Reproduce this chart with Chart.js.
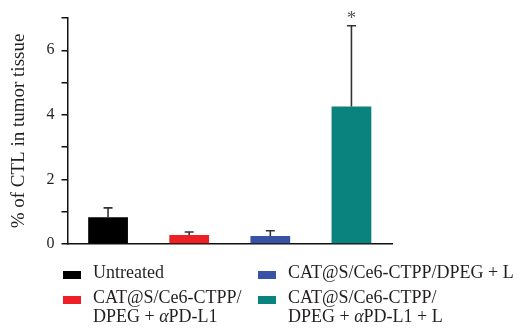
<!DOCTYPE html>
<html>
<head>
<meta charset="utf-8">
<script src="https://cdn.jsdelivr.net/npm/chart.js@4/dist/chart.umd.min.js"></script>
<style>
  html, body { margin: 0; padding: 0; background: #fff; }
  #wrap { position: relative; width: 520px; height: 330px; }
  #chart { position: absolute; left: 0; top: 0; }
  .lg-item { position: absolute; font-family: "Liberation Serif", "DejaVu Serif", serif;
             font-size: 18px; line-height: 19.5px; color: #231f20; white-space: nowrap; }
  .lg-swatch { position: absolute; width: 18px; height: 8px; }
</style>
</head>
<body>
<div id="wrap">
  <canvas id="chart" width="520" height="330"></canvas>
  <div id="legend"></div>
</div>
<script>
// Groups, each drawn as one bar
const categories = [
  ['Untreated'],
  ['CAT@S/Ce6-CTPP/', 'DPEG + αPD-L1'],
  ['CAT@S/Ce6-CTPP/DPEG + L'],
  ['CAT@S/Ce6-CTPP/', 'DPEG + αPD-L1 + L']
];
// Mean % of CTL in tumor tissue and the upper error (SD)
const means  = [0.83, 0.28, 0.25, 4.26];
const errors = [0.29, 0.09, 0.16, 2.50];
const significance = ['', '', '', '*'];
const barColors = ['#000000', '#ee1f25', '#3953a4', '#0a827d'];
const yTickValues = [0, 2, 4, 6];
const yTitle = '% of CTL in tumor tissue';

const serif = '"Liberation Serif", "DejaVu Serif", serif';

// Upward-only error bars with caps, plus significance marks above them
const errorBarPlugin = {
  id: 'errorBars',
  afterDatasetsDraw(chart) {
    const { ctx, scales: { x, y } } = chart;
    ctx.save();
    means.forEach((m, i) => {
      const cx = x.getPixelForValue(i);
      const yBar = y.getPixelForValue(m);
      const yTop = y.getPixelForValue(m + errors[i]);
      ctx.strokeStyle = '#333';
      ctx.lineWidth = 1.6;
      ctx.beginPath();
      ctx.moveTo(cx, yBar);
      ctx.lineTo(cx, yTop);
      ctx.moveTo(cx - 4.5, yTop);
      ctx.lineTo(cx + 4.5, yTop);
      ctx.stroke();
      if (significance[i]) {
        ctx.fillStyle = '#555';
        ctx.font = '19px ' + serif;
        ctx.textAlign = 'center';
        ctx.textBaseline = 'alphabetic';
        ctx.fillText(significance[i], cx, yTop - 2);
      }
    });
    ctx.restore();
  }
};

new Chart(document.getElementById('chart'), {
  type: 'bar',
  data: {
    labels: categories.map(c => c.join(' ')),
    datasets: [{
      data: means,
      backgroundColor: barColors,
      borderWidth: 0,
      barPercentage: 0.49,
      categoryPercentage: 1.0
    }]
  },
  options: {
    responsive: false,
    animation: false,
    events: [],
    layout: { padding: { left: 0, top: 18, right: 128, bottom: 78 } },
    plugins: { legend: { display: false }, tooltip: { enabled: false } },
    scales: {
      x: {
        ticks: { display: false },
        grid: { display: false },
        border: { display: true, color: '#111', width: 1.5 }
      },
      y: {
        min: 0,
        max: 7,
        ticks: {
          stepSize: 1,
          color: '#231f20',
          padding: 7,
          font: { family: serif, size: 16 },
          callback: v => (yTickValues.includes(v) ? String(v) : '')
        },
        grid: { drawOnChartArea: false, drawTicks: true, tickLength: 6, color: '#111', lineWidth: 1.5 },
        border: { display: true, color: '#111', width: 1.5 },
        title: {
          display: true,
          text: yTitle,
          color: '#231f20',
          font: { family: serif, size: 19 },
          padding: { top: 8, bottom: 8.7 }
        }
      }
    }
  },
  plugins: [errorBarPlugin]
});

// Legend in two columns, swatches sitting on the first text baseline
const legend = document.getElementById('legend');
const legendSlots = [
  { left: 63, baseline: 278.7 },
  { left: 63, baseline: 303.7 },
  { left: 258, baseline: 278.7 },
  { left: 258, baseline: 303.7 }
];
categories.forEach((lines, i) => {
  const slot = legendSlots[i];
  const sw = document.createElement('div');
  sw.className = 'lg-swatch';
  sw.style.left = slot.left + 'px';
  sw.style.top = (slot.baseline - 8) + 'px';
  sw.style.background = barColors[i];
  legend.appendChild(sw);
  const txt = document.createElement('div');
  txt.className = 'lg-item';
  txt.style.left = (slot.left + 30) + 'px';
  txt.style.top = (slot.baseline - 15.8) + 'px';
  lines.forEach((line, j) => {
    if (j) txt.appendChild(document.createElement('br'));
    line.split('α').forEach((part, k) => {
      if (k) {
        const a = document.createElement('i');
        a.textContent = 'α';
        txt.appendChild(a);
      }
      txt.appendChild(document.createTextNode(part));
    });
  });
  legend.appendChild(txt);
});
</script>
</body>
</html>
